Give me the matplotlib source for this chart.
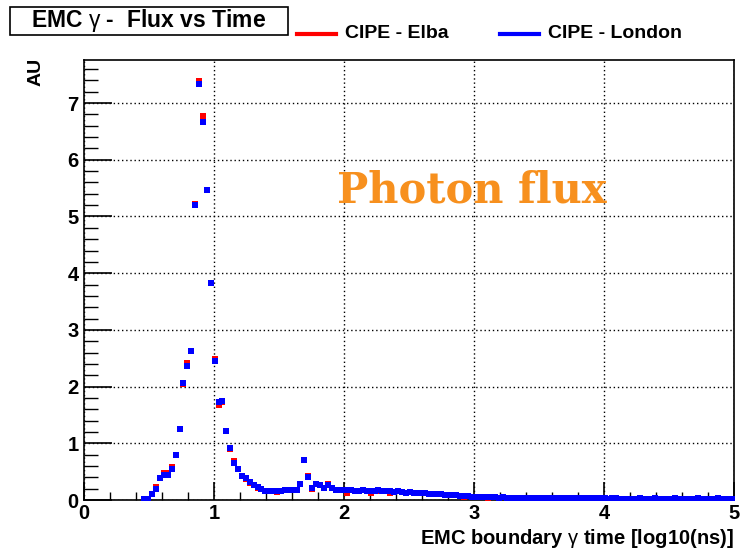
import numpy as np
import matplotlib
matplotlib.use("Agg")
import matplotlib.pyplot as plt
from matplotlib.ticker import MultipleLocator
from matplotlib.patches import Rectangle

# ---- data ----
bin_width = 0.03
first_bin = 15  # first filled bin index (bins start at 0)

elba = [
    0.01, 0.02, 0.10, 0.23, 0.39, 0.47, 0.47, 0.58, 0.80, 1.26,   # k15-24
    2.05, 2.42, 2.63, 5.22, 7.39, 6.77, 5.46, 3.83, 2.49, 1.68,   # k25-34
    1.72, 1.22, 0.90, 0.68, 0.54, 0.43, 0.37, 0.30, 0.26, 0.22,   # k35-44
    0.19, 0.16, 0.15, 0.16, 0.14, 0.16, 0.18, 0.18, 0.17, 0.17,   # k45-54
    0.29, 0.70, 0.43, 0.20, 0.28, 0.26, 0.22, 0.29, 0.22, 0.18,   # k55-64
    0.18, 0.18, 0.13, 0.18, 0.16,                                 # k65-69
    0.16, 0.17, 0.15, 0.13, 0.15, 0.16, 0.15, 0.15, 0.13, 0.14,   # k70-79
    0.15, 0.14, 0.12, 0.14, 0.13, 0.12, 0.12, 0.12, 0.11, 0.10,   # k80-89
    0.10, 0.10, 0.09, 0.08, 0.08, 0.08, 0.07, 0.06, 0.07, 0.06,   # k90-99
    0.06, 0.05, 0.05, 0.04, 0.05, 0.05, 0.04, 0.05, 0.04, 0.04,   # k100-109
    0.04, 0.03, 0.04, 0.04, 0.04, 0.03, 0.04, 0.04, 0.03, 0.03,   # k110-119
    0.03, 0.04, 0.03, 0.02, 0.03, 0.03, 0.03, 0.02, 0.03, 0.03,   # k120-129
    0.03, 0.03, 0.02, 0.03, 0.02, 0.03, 0.01, 0.01, 0.02, 0.02,   # k130-139
    0.01, 0.02, 0.03, 0.01, 0.01, 0.02, 0.02, 0.01, 0.02, 0.02,   # k140-149
    0.01, 0.03, 0.02, 0.01, 0.01, 0.02, 0.02, 0.02, 0.01, 0.02,   # k150-159
    0.02, 0.01, 0.02, 0.01, 0.02, 0.02, 0.02,                     # k160-166
]

london = [
    0.01, 0.02, 0.10, 0.19, 0.39, 0.44, 0.44, 0.54, 0.79, 1.26,   # k15-24
    2.07, 2.37, 2.63, 5.20, 7.34, 6.66, 5.46, 3.83, 2.45, 1.72,   # k25-34
    1.74, 1.22, 0.92, 0.66, 0.54, 0.43, 0.39, 0.31, 0.26, 0.23,   # k35-44
    0.19, 0.16, 0.15, 0.16, 0.15, 0.16, 0.18, 0.17, 0.17, 0.17,   # k45-54
    0.28, 0.70, 0.41, 0.21, 0.28, 0.26, 0.22, 0.27, 0.22, 0.18,   # k55-64
    0.18, 0.18, 0.17, 0.18, 0.16,                                 # k65-69
    0.16, 0.17, 0.15, 0.16, 0.15, 0.17, 0.16, 0.15, 0.15, 0.14,   # k70-79
    0.15, 0.14, 0.13, 0.14, 0.13, 0.12, 0.13, 0.12, 0.11, 0.11,   # k80-89
    0.10, 0.10, 0.09, 0.09, 0.08, 0.08, 0.07, 0.07, 0.07, 0.06,   # k90-99
    0.06, 0.05, 0.05, 0.05, 0.05, 0.05, 0.04, 0.05, 0.04, 0.04,   # k100-109
    0.04, 0.04, 0.04, 0.04, 0.04, 0.04, 0.04, 0.04, 0.04, 0.03,   # k110-119
    0.03, 0.04, 0.03, 0.03, 0.03, 0.03, 0.03, 0.03, 0.03, 0.03,   # k120-129
    0.03, 0.03, 0.03, 0.03, 0.02, 0.03, 0.03, 0.02, 0.02, 0.02,   # k130-139
    0.02, 0.02, 0.03, 0.02, 0.02, 0.02, 0.03, 0.02, 0.02, 0.02,   # k140-149
    0.02, 0.03, 0.02, 0.02, 0.02, 0.02, 0.02, 0.03, 0.02, 0.02,   # k150-159
    0.02, 0.02, 0.03, 0.02, 0.02, 0.02, 0.02,                     # k160-166
]

x_ticks = [0, 1, 2, 3, 4, 5]
y_ticks = [0, 1, 2, 3, 4, 5, 6, 7]
title_text = "EMC $\\gamma$ -  Flux vs Time"
legend_labels = ["CIPE - Elba", "CIPE - London"]
series_colors = ["#ff0000", "#0000ff"]
x_label = "EMC boundary $\\gamma$ time [log10(ns)]"
y_label = "AU"
annotation = "Photon flux"

# ---- figure ----
plt.rcParams['font.family'] = ['Liberation Sans', 'DejaVu Sans']
plt.rcParams['mathtext.fontset'] = 'custom'
plt.rcParams['mathtext.rm'] = 'Liberation Sans'
plt.rcParams['mathtext.it'] = 'Liberation Sans'
plt.rcParams['mathtext.bf'] = 'Liberation Sans:bold'

W, H = 740, 551
fig = plt.figure(figsize=(W/100, H/100), dpi=100)
ax = fig.add_axes([84/W, 51/H, 650/W, 440/H])

centers = (np.arange(len(london)) + first_bin + 0.5) * bin_width
for vals, col in zip([elba, london], series_colors):
    ax.errorbar(centers, vals, xerr=bin_width/2, fmt='s', color=col,
                ecolor=col, elinewidth=1.8, markersize=3.8,
                markeredgewidth=0, capsize=0, zorder=3)

ax.set_xlim(0, 5)
ax.set_ylim(0, 7.76)
ax.xaxis.set_minor_locator(MultipleLocator(0.2))
ax.yaxis.set_minor_locator(MultipleLocator(0.2))
ax.set_xticks(x_ticks)
ax.set_yticks(y_ticks)
ax.tick_params(axis='x', which='major', direction='in', length=13, width=1.2,
               labelsize=14.5, pad=3)
ax.tick_params(axis='x', which='minor', direction='in', length=6, width=1)
ax.tick_params(axis='y', which='major', direction='in', length=20, width=1.2,
               labelsize=14.5, pad=4)
ax.tick_params(axis='y', which='minor', direction='in', length=10, width=1)
for lab in ax.get_xticklabels() + ax.get_yticklabels():
    lab.set_fontweight('bold')
ax.grid(True, which='major', linestyle=(0, (1, 2)), color='black', linewidth=1)
ax.set_axisbelow(True)
for sp in ax.spines.values():
    sp.set_linewidth(1.2)

fig.text(734/W, 1 - 538/H, x_label, ha='right', va='center',
         fontsize=14.5, fontweight='bold')
fig.text(36/W, 1 - 72/H, y_label, ha='center', va='center', rotation=90,
         fontsize=14, fontweight='bold')

# title box
fig.add_artist(Rectangle((10/W, 1 - 35/H), 278/W, 28/H, transform=fig.transFigure,
                         facecolor='white', edgecolor='black', linewidth=1.2))
fig.text(149/W, 1 - 21/H, title_text, ha='center', va='center',
         fontsize=16.5, fontweight='bold')

# legend
for (x0, x1, tx), lab, col in zip([(297, 336, 345), (500, 539, 548)],
                                  legend_labels, series_colors):
    fig.add_artist(plt.Line2D([x0/W, x1/W], [1 - 34/H, 1 - 34/H],
                              color=col, linewidth=3, transform=fig.transFigure))
    fig.text(tx/W, 1 - 34/H, lab, ha='left', va='center',
             fontsize=14, fontweight='bold')

fig.text(472/W, 1 - 191/H, annotation, ha='center', va='center',
         fontsize=30, fontweight='bold', color='#f7901e',
         family=['DejaVu Serif'])

fig.savefig('out.png', dpi=100)
